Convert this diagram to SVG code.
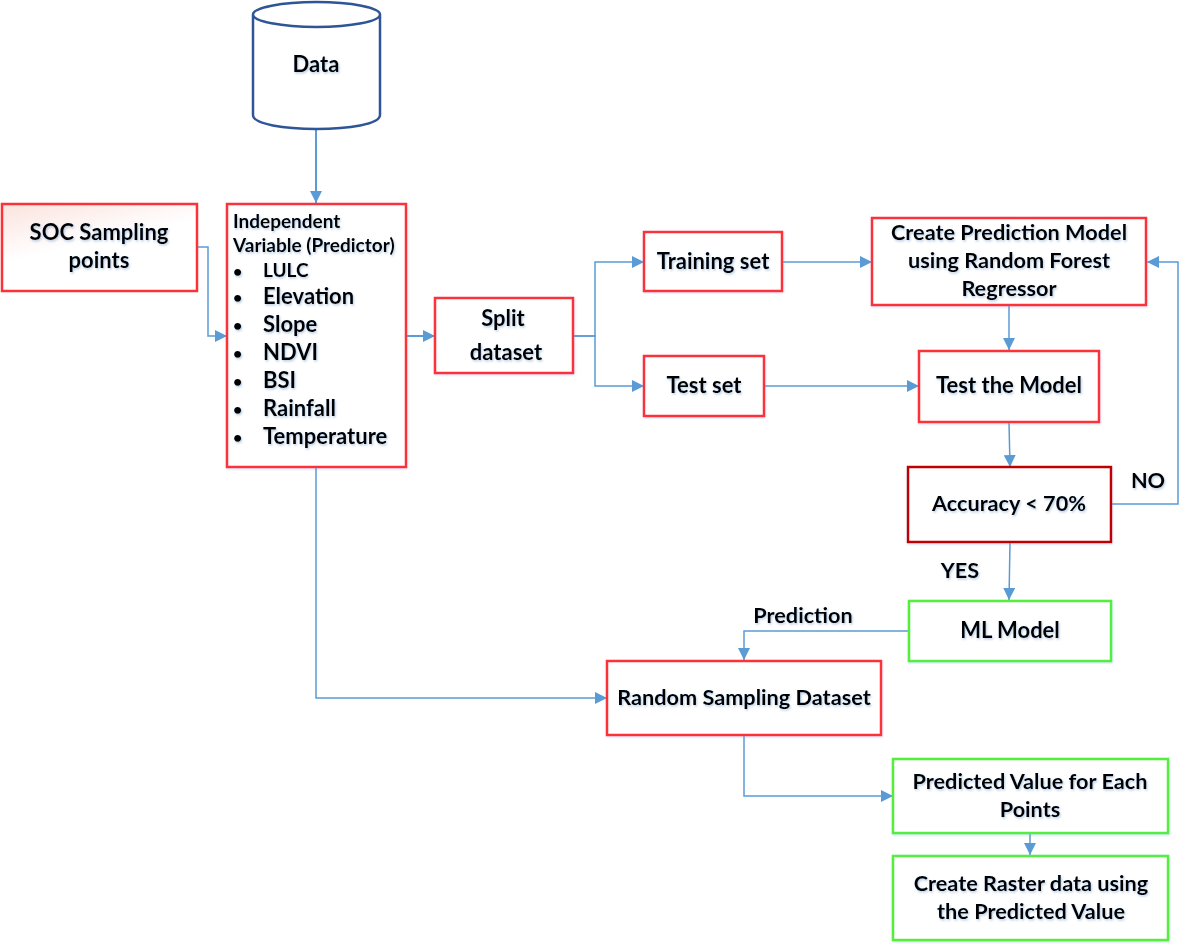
<svg xmlns="http://www.w3.org/2000/svg" width="1180" height="950" viewBox="0 0 1180 950">
<defs>
<marker id="a" viewBox="0 0 12 12" refX="12" refY="6" markerWidth="12" markerHeight="12" markerUnits="userSpaceOnUse" orient="auto"><path d="M0 0L12 6L0 12Z" fill="#5b9bd5"/></marker>
<linearGradient id="pink" x1="0" y1="0" x2="0.45" y2="0.9"><stop offset="0" stop-color="#fbe3de"/><stop offset="0.6" stop-color="#fff"/></linearGradient>
<filter id="ts" x="-10%" y="-30%" width="120%" height="170%"><feDropShadow dx="1" dy="1.5" stdDeviation="1" flood-color="#4f7fb8" flood-opacity="0.4"/></filter>
<filter id="bs" x="-5%" y="-5%" width="110%" height="110%"><feDropShadow dx="0.5" dy="1" stdDeviation="1" flood-color="#5b9bd5" flood-opacity="0.35"/></filter>
</defs>
<style>
text{font-family:Lato,"Liberation Sans",sans-serif;font-weight:700;font-size:22px;fill:#000;text-anchor:middle;filter:url(#ts)}
.r{fill:#fff;stroke:#fb3238;stroke-width:2.5;filter:url(#bs)}
.d{fill:#fff;stroke:#c00000;stroke-width:2.5;filter:url(#bs)}
.g{fill:#fff;stroke:#55ee3c;stroke-width:2.5;filter:url(#bs)}
.c{fill:none;stroke:#5b9bd5;stroke-width:1.5;marker-end:url(#a)}
.l{text-anchor:start}
.s{font-size:19px}
.b{font-size:16px}
.n{font-size:21.7px}
</style>
<rect width="1180" height="950" fill="#fff"/>
<g id="connectors">
<path class="c" d="M316 129V203" style="stroke-width:2"/>
<path class="c" d="M197 247H208V336H227"/>
<path class="c" d="M406 336H435" style="stroke-width:2"/>
<path class="c" d="M573 336H595V262H644"/>
<path class="c" d="M573 336H595V386H644"/>
<path class="c" d="M782 262H872"/>
<path class="c" d="M764 386H919"/>
<path class="c" d="M1009 305V350"/>
<path class="c" d="M1009 422L1010 467"/>
<path class="c" d="M1111 504H1178V262H1147"/>
<path class="c" d="M1010 542L1009 600"/>
<path class="c" d="M909 631H744V660"/>
<path class="c" d="M316 467V698H607"/>
<path class="c" d="M744 735V796H893"/>
<path class="c" d="M1030 833V855"/>
</g>
<g id="data"><path d="M253 14.500V115C253 133.500 380 133.500 380 115V14.500A63.500 12.500 0 0 0 253 14.500A63.500 12.500 0 0 0 380 14.500" fill="#fff" stroke="#2f5597" stroke-width="2.5"/><text x="316" y="72">Data</text></g>
<g id="soc"><rect x="2" y="204" width="195" height="87" fill="url(#pink)" stroke="#fb3238" stroke-width="2.500"/><text x="99" y="240">SOC Sampling</text><text x="99" y="268">points</text></g>
<g id="predictors"><rect class="r" x="227" y="204" width="179" height="263"/>
<text class="l s" x="233" y="228">Independent</text><text class="l s" x="233" y="252">Variable (Predictor)</text>
<text class="l b" x="233" y="277">•</text><text class="l s" x="263" y="277">LULC</text>
<text class="l b" x="233" y="303">•</text><text class="l" x="263" y="304">Elevation</text>
<text class="l b" x="233" y="331">•</text><text class="l" x="263" y="332">Slope</text>
<text class="l b" x="233" y="359">•</text><text class="l" x="263" y="360">NDVI</text>
<text class="l b" x="233" y="387">•</text><text class="l" x="263" y="388">BSI</text>
<text class="l b" x="233" y="415">•</text><text class="l" x="263" y="416">Rainfall</text>
<text class="l b" x="233" y="443">•</text><text class="l" x="263" y="444">Temperature</text></g>
<g id="split"><rect class="r" x="435" y="298" width="138" height="75"/><text x="503" y="326">Split</text><text x="506" y="360">dataset</text></g>
<g id="train"><rect class="r" x="644" y="232" width="138" height="59"/><text x="713" y="269">Training set</text></g>
<g id="test"><rect class="r" x="644" y="356" width="120" height="60"/><text x="704" y="393">Test set</text></g>
<g id="create"><rect class="r" x="872" y="218" width="274" height="87"/><text class="n" x="1009" y="240">Create Prediction Model</text><text class="n" x="1009" y="268">using Random Forest</text><text class="n" x="1009" y="296">Regressor</text></g>
<g id="testmodel"><rect class="r" x="919" y="351" width="180" height="71"/><text x="1009" y="393">Test the Model</text></g>
<g id="accuracy"><rect class="d" x="908" y="467" width="203" height="75"/><text class="n" x="1009" y="511">Accuracy &lt; 70%</text></g>
<g id="ml"><rect class="g" x="909" y="601" width="202" height="60"/><text x="1010" y="638">ML Model</text></g>
<g id="random"><rect class="r" x="607" y="661" width="274" height="74"/><text class="n" x="744" y="705">Random Sampling Dataset</text></g>
<g id="predicted"><rect class="g" x="893" y="759" width="275" height="74"/><text class="n" x="1030" y="789">Predicted Value for Each</text><text class="n" x="1030" y="817">Points</text></g>
<g id="raster"><rect class="g" x="893" y="856" width="275" height="84"/><text class="n" x="1031" y="891">Create Raster data using</text><text class="n" x="1031" y="919">the Predicted Value</text></g>
<g id="labels"><text class="n" x="1148" y="488">NO</text><text class="n" x="960" y="578">YES</text><text class="n" x="803" y="623">Prediction</text></g>
</svg>
